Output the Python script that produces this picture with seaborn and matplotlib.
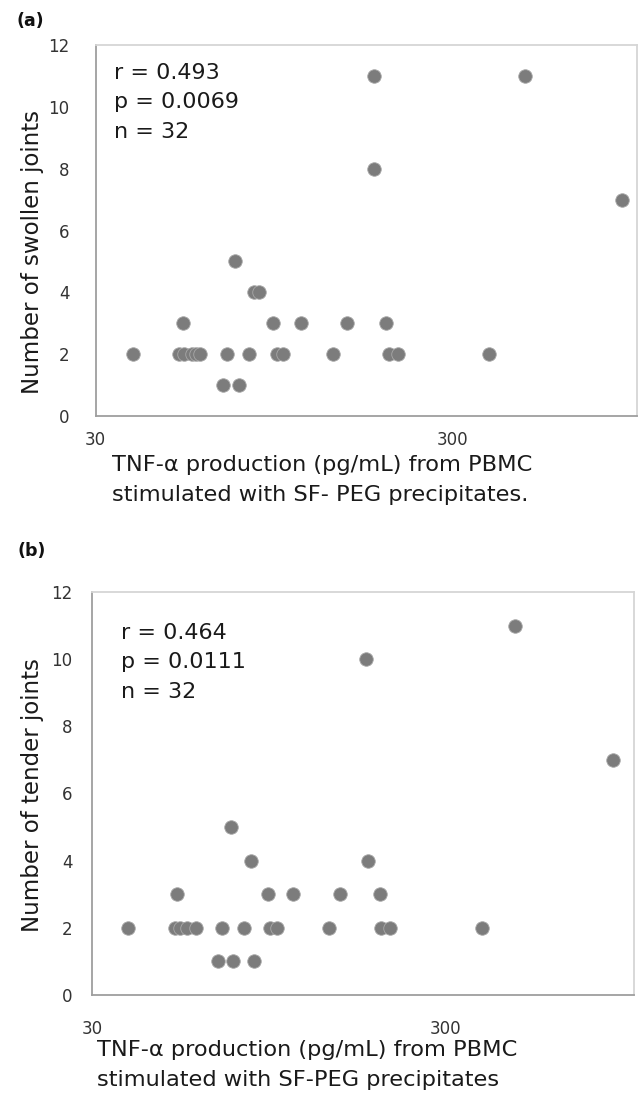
import matplotlib
matplotlib.use("Agg")
import matplotlib.pyplot as plt
import seaborn as sns
import pandas as pd

# ---------------- data ----------------
swollen_tnf = [180.6, 479, 180.6, 897, 73.7, 83.4, 86.1, 52.6, 94.4, 112.6, 152, 195,
               38.1, 51.4, 52.9, 55.8, 57.4, 58.7, 70.1, 80.8, 96.6, 100.3, 139.2,
               199.8, 210.6, 380, 68.4, 75.5]
swollen_joints = [11, 11, 8, 7, 5, 4, 4, 3, 3, 3, 3, 3,
                  2, 2, 2, 2, 2, 2, 2, 2, 2, 2, 2,
                  2, 2, 2, 1, 1]

tender_tnf = [469.6, 178, 892, 74.1, 84.2, 180.6, 52.2, 94.3, 110.7, 151, 195,
              38, 51.6, 53.1, 55.5, 59, 69.9, 80.6, 95.8, 99.7, 140, 196.8, 208.5, 380,
              68.2, 74.9, 85.8]
tender_joints = [11, 10, 7, 5, 4, 4, 3, 3, 3, 3, 3,
                 2, 2, 2, 2, 2, 2, 2, 2, 2, 2, 2, 2, 2,
                 1, 1, 1]

stats_a = ["r = 0.493", "p = 0.0069", "n = 32"]
stats_b = ["r = 0.464", "p = 0.0111", "n = 32"]
ylabel_a = "Number of swollen joints"
ylabel_b = "Number of tender joints"
xlabel_a = ["TNF-\u03b1 production (pg/mL) from PBMC", "stimulated with SF- PEG precipitates."]
xlabel_b = ["TNF-\u03b1 production (pg/mL) from PBMC", "stimulated with SF-PEG precipitates"]
x_major = [30, 300]
x_major_labels = ["30", "300"]
x_minor = [60, 90, 120, 150, 180, 210, 240, 270, 600, 900]
y_ticks = [0, 2, 4, 6, 8, 10, 12]

# ---------------- style ----------------
sns.set_style("white")
plt.rcParams["font.family"] = ["DejaVu Sans"]

W, H = 638, 1093
fig = plt.figure(figsize=(W / 100, H / 100), dpi=100)


def px_ax(l, r, t, b):
    return fig.add_axes([l / W, (H - b) / H, (r - l) / W, (b - t) / H])


def style_axis(ax, xmax, xpad, ypad):
    ax.set_xscale("log")
    ax.set_xlim(30, xmax)
    ax.set_ylim(0, 12)
    ax.set_xticks(x_major, labels=x_major_labels)
    ax.set_xticks(x_minor, minor=True)
    ax.set_xticklabels([], minor=True)
    ax.set_yticks(y_ticks)
    ax.set_yticklabels([str(v) for v in y_ticks])
    ax.tick_params(axis="x", which="major", direction="out", length=4, width=1,
                   color="#9e9e9e", labelsize=12, labelcolor="#333333", pad=xpad)
    ax.tick_params(axis="x", which="minor", direction="out", length=2.5, width=1,
                   color="#b0b0b0")
    ax.tick_params(axis="y", which="major", direction="out", length=6, width=1,
                   color="#b0b0b0", labelsize=12, labelcolor="#333333", pad=ypad)
    ax.tick_params(axis="y", which="minor", length=0)
    for s in ["left", "bottom"]:
        ax.spines[s].set_color("#9e9e9e")
        ax.spines[s].set_linewidth(1.3)
    for s in ["top", "right"]:
        ax.spines[s].set_color("#d6d6d6")
        ax.spines[s].set_linewidth(1.3)
    ax.set_xlabel("")
    ax.set_ylabel("")


# ---------------- panel (a) ----------------
ax1 = px_ax(95.7, 636.5, 45, 416)
df_a = pd.DataFrame({"tnf": swollen_tnf, "joints": swollen_joints})
sns.scatterplot(data=df_a, x="tnf", y="joints", ax=ax1, s=95, color="#7c7c7c",
                edgecolor="#a8a8a8", linewidth=0.6, zorder=3)
style_axis(ax1, 985, 6.5, 13)
for i, t in enumerate(stats_a):
    fig.text(114 / W, 1 - (73 + 29.5 * i) / H, t, fontsize=16, color="#1a1a1a",
             ha="left", va="center")
fig.text(30 / W, 1 - 21 / H, "(a)", fontsize=12.5, fontweight="bold", ha="center",
         va="center", color="#111111")
fig.text(33 / W, 1 - 252 / H, ylabel_a, fontsize=16.5, rotation=90, ha="center",
         va="center", color="#1a1a1a")
for i, t in enumerate(xlabel_a):
    fig.text(112 / W, 1 - (471 + 30 * i) / H, t, fontsize=16.2, ha="left",
             va="baseline", color="#1a1a1a")

# ---------------- panel (b) ----------------
ax2 = px_ax(92, 634, 592, 995)
df_b = pd.DataFrame({"tnf": tender_tnf, "joints": tender_joints})
sns.scatterplot(data=df_b, x="tnf", y="joints", ax=ax2, s=95, color="#7c7c7c",
                edgecolor="#a8a8a8", linewidth=0.6, zorder=3)
style_axis(ax2, 1020, 14, 8)
for i, t in enumerate(stats_b):
    fig.text(121 / W, 1 - (633 + 29.5 * i) / H, t, fontsize=16, color="#1a1a1a",
             ha="left", va="center")
fig.text(32 / W, 1 - 551 / H, "(b)", fontsize=12.5, fontweight="bold", ha="center",
         va="center", color="#111111")
fig.text(33 / W, 1 - 795 / H, ylabel_b, fontsize=16.5, rotation=90, ha="center",
         va="center", color="#1a1a1a")
for i, t in enumerate(xlabel_b):
    fig.text(97 / W, 1 - (1056 + 30 * i) / H, t, fontsize=16.2, ha="left",
             va="baseline", color="#1a1a1a")

fig.savefig("out.png", dpi=100, facecolor="white")
